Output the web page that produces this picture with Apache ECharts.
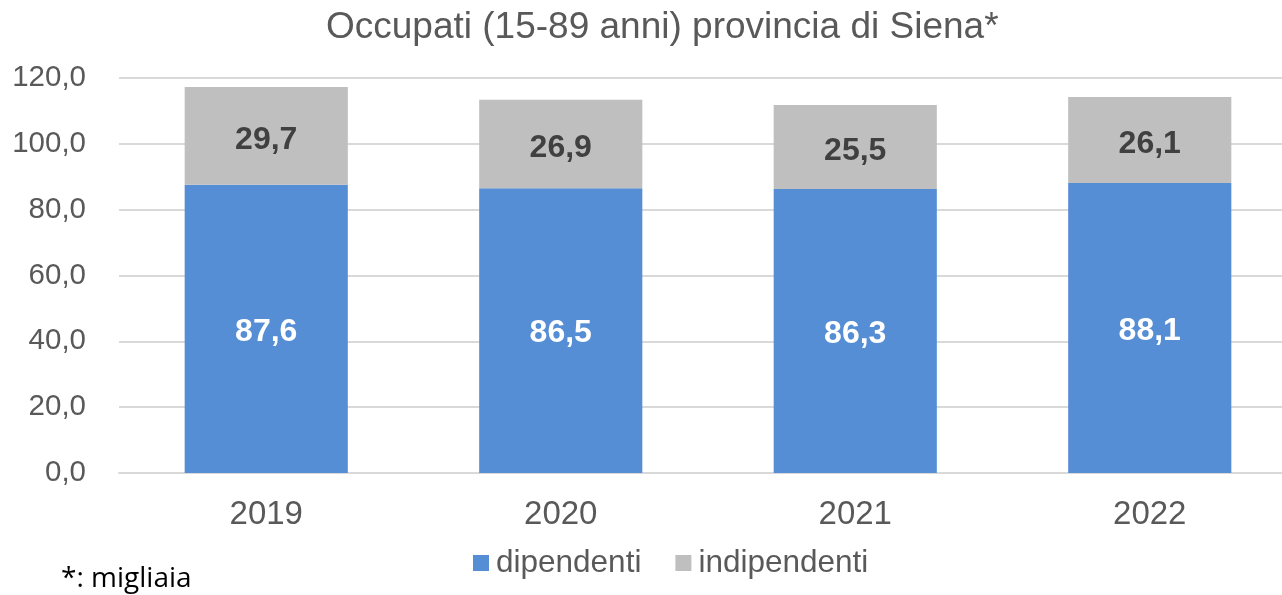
<!DOCTYPE html>
<html><head><meta charset="utf-8">
<script src="https://cdn.jsdelivr.net/npm/echarts@6/dist/echarts.min.js"></script>
<style>html,body{margin:0;padding:0;background:#fff;overflow:hidden;width:1282px;height:595px}#c{width:1298px;height:595px}</style>
</head><body><div id="c"></div>
<script>
const categories = ['2019','2020','2021','2022'];
const dipendenti = [87.6, 86.5, 86.3, 88.1];
const indipendenti = [29.7, 26.9, 25.5, 26.1];
const yTicks = {min:0, max:120, interval:20};
const fmt = v => v.toFixed(1).replace('.', ',');
const chart = echarts.init(document.getElementById('c'));
chart.setOption({
  animation:false,
  backgroundColor:'#fff',
  title:{text:'Occupati (15-89 anni) provincia di Siena*', left:321, top:4,
    textStyle:{fontFamily:'Liberation Sans', fontSize:37, fontWeight:'normal', color:'#595959'}},
  legend:{left:468, top:542, itemWidth:16, itemHeight:16, itemGap:34,
    textStyle:{fontFamily:'Liberation Sans', fontSize:31.5, color:'#595959', padding:[0,0,0,2]},
    data:[{name:'dipendenti', icon:'rect'},{name:'indipendenti', icon:'rect'}]},
  graphic:[{type:'text', left:61, top:565, style:{text:'*: migliaia', font:'28px "Open Sans"', fill:'#000'}}],
  grid:{left:119, top:78, width:1178, height:395, containLabel:false},
  xAxis:{type:'category', data:categories,
    axisLine:{lineStyle:{color:'#D9D9D9', width:2}}, axisTick:{show:false},
    axisLabel:{fontFamily:'Liberation Sans', fontSize:33, color:'#595959', margin:25}},
  yAxis:{type:'value', min:yTicks.min, max:yTicks.max, interval:yTicks.interval,
    axisLine:{show:false}, axisTick:{show:false},
    splitLine:{lineStyle:{color:'#D9D9D9', width:2}},
    axisLabel:{fontFamily:'Liberation Sans', fontSize:29.5, color:'#595959', margin:33, formatter:fmt}},
  series:[
    {name:'dipendenti', type:'bar', stack:'s', data:dipendenti, barWidth:'55.4%',
      itemStyle:{color:'#558ED5'},
      label:{show:true, position:'inside', offset:[0,3], formatter:p=>fmt(p.value), color:'#fff',
        fontFamily:'Liberation Sans', fontWeight:'bold', fontSize:32}},
    {name:'indipendenti', type:'bar', stack:'s', data:indipendenti, barWidth:'55.4%',
      itemStyle:{color:'#BFBFBF'},
      label:{show:true, position:'inside', offset:[0,4], formatter:p=>fmt(p.value), color:'#404040',
        fontFamily:'Liberation Sans', fontWeight:'bold', fontSize:32}}
  ]
});
</script></body></html>
